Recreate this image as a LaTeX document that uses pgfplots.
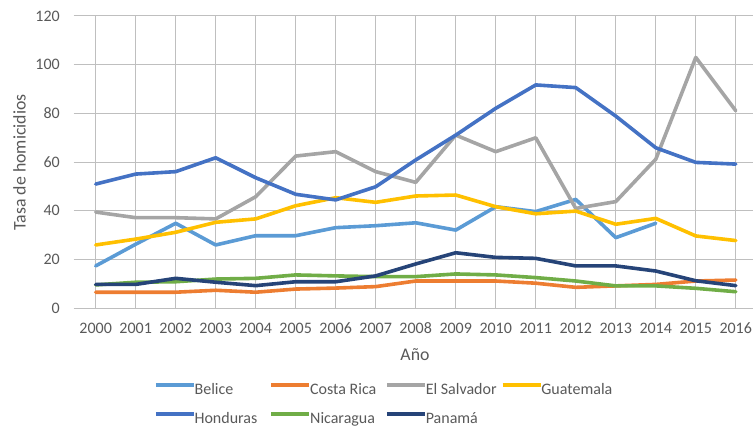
\documentclass[border=0pt]{standalone}
\usepackage{pgfplots}
\pgfplotsset{compat=1.18}
\usepackage{fontspec}
\setmainfont{Carlito}
\definecolor{cBel}{HTML}{5B9BD5}
\definecolor{cCR}{HTML}{ED7D31}
\definecolor{cES}{HTML}{A5A5A5}
\definecolor{cGua}{HTML}{FFC000}
\definecolor{cHon}{HTML}{4472C4}
\definecolor{cNic}{HTML}{70AD47}
\definecolor{cPan}{HTML}{264478}
\definecolor{grid}{HTML}{D9D9D9}
\definecolor{txt}{HTML}{595959}
\newcommand{\legtxt}[1]{\makebox[75pt][l]{\rule{0pt}{11pt}\rule[-4pt]{0pt}{4pt}#1}}
\begin{document}
\begin{tikzpicture}
\path[use as bounding box] (0pt,0pt) rectangle (753pt,427pt);
\begin{axis}[
  at={(73.7pt,118.7pt)}, anchor=south west,
  scale only axis, width=679.3pt, height=292.3pt,
  xmin=1999.45, xmax=2016.43, ymin=0, ymax=120,
  axis line style={draw=none},
  xtick={2000,...,2016}, ytick={0,20,...,120},
  major tick length=0pt,
  ymajorgrids, grid style={grid, line width=1pt},
  /pgf/number format/assume math mode=true,
  xticklabel style={/pgf/number format/1000 sep={}, inner sep=0pt, anchor=north, yshift=-14.5pt},
  yticklabel style={inner sep=0pt, anchor=east, xshift=-13.7pt},
  ticklabel style={font=\fontsize{16}{19}\selectfont, text=txt},
  xlabel={Año}, ylabel={Tasa de homicidios},
  label style={font=\fontsize{17.8}{21}\selectfont, text=txt},
  xlabel style={at={(axis description cs:0.5024,-0.1598)}, anchor=center, inner sep=0pt},
  ylabel style={at={(axis description cs:-0.0798,0.4988)}, anchor=center, inner sep=0pt},
  clip=false,
  every axis plot/.append style={line width=3.6pt, line join=round, line cap=round, mark=none},
  legend columns=4,
  legend image code/.code={\draw[#1, line cap=butt] (0pt,4.5pt) -- (38pt,4.5pt);},
  legend style={draw=none, fill=none, inner sep=0pt, outer sep=0pt,
    at={(axis description cs:0.1182,-0.257)}, anchor=north west,
    font=\fontsize{16}{19}\selectfont, text=txt,
    nodes={inner sep=0pt, outer sep=0pt},
    row sep=16pt,
    /tikz/every odd column/.append style={column sep=-1pt},
    /tikz/every even column/.append style={column sep=0pt}},
  legend cell align=left,
]
\addplot[cBel] coordinates {(2000,17.4)(2001,26.3)(2002,34.9)(2003,26.0)(2004,29.8)(2005,29.8)(2006,33.1)(2007,33.9)(2008,35.1)(2009,32.1)(2010,41.7)(2011,39.7)(2012,44.7)(2013,29.0)(2014,34.9)};
\addlegendentry{\legtxt{Belice}}
\addplot[cCR] coordinates {(2000,6.6)(2001,6.6)(2002,6.6)(2003,7.4)(2004,6.6)(2005,7.9)(2006,8.3)(2007,8.9)(2008,11.2)(2009,11.2)(2010,11.2)(2011,10.3)(2012,8.6)(2013,9.2)(2014,9.8)(2015,11.2)(2016,11.6)};
\addlegendentry{\legtxt{Costa Rica}}
\addplot[cES] coordinates {(2000,39.5)(2001,37.2)(2002,37.2)(2003,36.7)(2004,45.8)(2005,62.5)(2006,64.3)(2007,56.1)(2008,51.7)(2009,71.1)(2010,64.3)(2011,70.0)(2012,41.0)(2013,43.8)(2014,61.2)(2015,103.0)(2016,81.1)};
\addlegendentry{\legtxt{El Salvador}}
\addplot[cGua] coordinates {(2000,26.0)(2001,28.4)(2002,31.2)(2003,35.3)(2004,36.7)(2005,42.1)(2006,45.4)(2007,43.5)(2008,46.1)(2009,46.5)(2010,41.7)(2011,38.8)(2012,39.9)(2013,34.5)(2014,36.9)(2015,29.7)(2016,27.8)};
\addlegendentry{\legtxt{Guatemala}}
\addplot[cHon] coordinates {(2000,51.0)(2001,55.1)(2002,56.1)(2003,61.8)(2004,53.6)(2005,46.8)(2006,44.5)(2007,49.9)(2008,60.9)(2009,71.1)(2010,82.1)(2011,91.7)(2012,90.6)(2013,78.9)(2014,65.9)(2015,59.9)(2016,59.2)};
\addlegendentry{\legtxt{Honduras}}
\addplot[cNic] coordinates {(2000,9.6)(2001,10.7)(2002,10.9)(2003,12.0)(2004,12.3)(2005,13.7)(2006,13.3)(2007,13.0)(2008,13.0)(2009,14.1)(2010,13.7)(2011,12.6)(2012,11.2)(2013,9.2)(2014,9.2)(2015,8.2)(2016,6.8)};
\addlegendentry{\legtxt{Nicaragua}}
\addplot[cPan] coordinates {(2000,9.8)(2001,9.8)(2002,12.3)(2003,10.7)(2004,9.3)(2005,10.9)(2006,10.9)(2007,13.3)(2008,18.2)(2009,22.8)(2010,20.9)(2011,20.5)(2012,17.4)(2013,17.4)(2014,15.3)(2015,11.3)(2016,9.3)};
\addlegendentry{\legtxt{Panamá}}
\end{axis}
\end{tikzpicture}
\end{document}
